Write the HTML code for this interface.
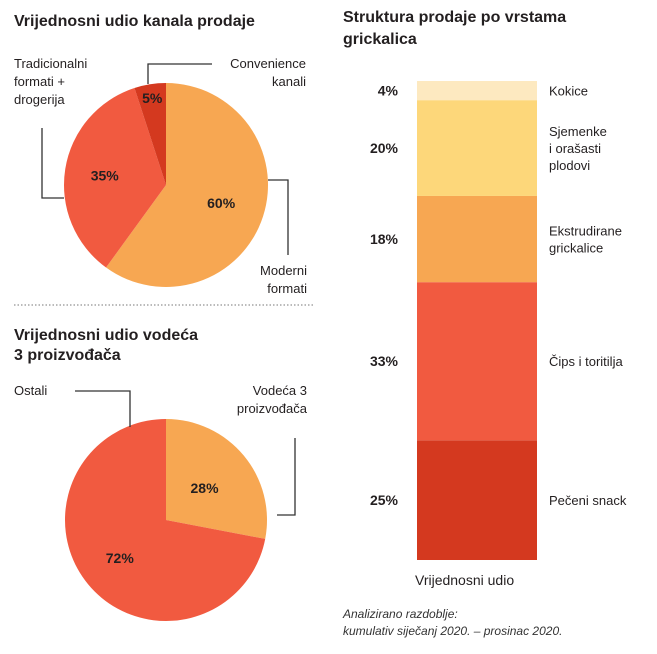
<!DOCTYPE html>
<html><head><meta charset="utf-8"><style>
body{margin:0;background:#fff;width:657px;height:649px;overflow:hidden;font-family:"Liberation Sans",sans-serif}
svg text{font-family:"Liberation Sans",sans-serif}
</style></head><body>
<svg width="657" height="649">
<g>
<text x="14" y="26" font-size="16" font-weight="bold" fill="#231f20">Vrijednosni udio kanala prodaje</text>
<text x="14" y="340" font-size="16" font-weight="bold" fill="#231f20">Vrijednosni udio vodeća</text>
<text x="14" y="360" font-size="16" font-weight="bold" fill="#231f20">3 proizvođača</text>
<text x="343" y="22" font-size="16" font-weight="bold" fill="#231f20">Struktura prodaje po vrstama</text>
<text x="343" y="44" font-size="16" font-weight="bold" fill="#231f20">grickalica</text>
</g>
<line x1="14" y1="305" x2="313" y2="305" stroke="#777" stroke-dasharray="1.5,2"/>
<g id="pie1"></g>
<g id="pie2"></g>
<g id="bar"></g>
<g fill="none" stroke="#333" stroke-width="1.3">
<polyline points="148,84 148,64 212,64"/>
<polyline points="64,198 42,198 42,128"/>
<polyline points="268,180 288,180 288,255"/>
<polyline points="75,391 130,391 130,427"/>
<polyline points="277,515 295,515 295,438"/>
</g>
<g font-size="13" fill="#231f20">
<text x="14" y="68">Tradicionalni</text><text x="14" y="86">formati +</text><text x="14" y="104">drogerija</text>
<text x="306" y="68" text-anchor="end">Convenience</text><text x="306" y="86" text-anchor="end">kanali</text>
<text x="307" y="275" text-anchor="end">Moderni</text><text x="307" y="293" text-anchor="end">formati</text>
<text x="14" y="395">Ostali</text>
<text x="307" y="395" text-anchor="end">Vodeća 3</text><text x="307" y="413" text-anchor="end">proizvođača</text>
</g>
<text x="415" y="585" font-size="14" fill="#231f20">Vrijednosni udio</text>
<text x="343" y="618" font-size="12" font-style="italic" fill="#333">Analizirano razdoblje:</text>
<text x="343" y="635" font-size="12" font-style="italic" fill="#333">kumulativ siječanj 2020. – prosinac 2020.</text>
</svg>
<script>
const pie1Labels=["Moderni formati","Tradicionalni formati + drogerija","Convenience kanali"];
const pie1Values=[60,35,5];
const pie2Labels=["Vodeća 3 proizvođača","Ostali"];
const pie2Values=[28,72];
const barCategories=["Pečeni snack","Čips i toritilja","Ekstrudirane grickalice","Sjemenke i orašasti plodovi","Kokice"];
const barValues=[25,33,18,20,4];
const NS="http://www.w3.org/2000/svg";
function mk(t,a,p){const e=document.createElementNS(NS,t);for(const k in a)e.setAttribute(k,a[k]);p.appendChild(e);return e;}
function pie(g,vals,cols,cx,cy,r,lr){
 const tot=vals.reduce((a,b)=>a+b,0);let a0=0;
 vals.forEach((v,i)=>{const a1=a0+v/tot*2*Math.PI;
  const x0=cx+r*Math.sin(a0),y0=cy-r*Math.cos(a0),x1=cx+r*Math.sin(a1),y1=cy-r*Math.cos(a1);
  const p=mk('path',{d:`M${cx},${cy}L${x0},${y0}A${r},${r} 0 ${a1-a0>Math.PI?1:0} 1 ${x1},${y1}Z`,fill:cols[i]},g);
  
  
  const am=(a0+a1)/2,rr=lr[i];
  const t=mk('text',{x:cx+rr*Math.sin(am),y:cy-rr*Math.cos(am)+5,'text-anchor':'middle','font-size':14,'font-weight':'bold',fill:'#231f20'},g);
  t.textContent=v+'%';
  
  
  a0=a1;});
}
pie(document.getElementById('pie1'),pie1Values,['#f7a752','#f15a40','#d4391f'],166,185,102,[58,62,88]);
pie(document.getElementById('pie2'),pie2Values,['#f7a752','#f15a40'],166,520,101,[50,60]);
const bg=document.getElementById('bar');
const bcols=['#d4391f','#f15a40','#f7a752','#fdd77a','#fde9c0'];
const bTop=81,bBot=560,bX=417,bW=120;
const bTot=barValues.reduce((a,b)=>a+b,0);let by=bBot;
barValues.forEach((v,i)=>{const h=v/bTot*(bBot-bTop);by-=h;
 const r=mk('rect',{x:bX,y:by,width:bW,height:h,fill:bcols[i]},bg);
 
 
 const cy=by+h/2;
 const t=mk('text',{x:398,y:cy+5,'text-anchor':'end','font-size':14,'font-weight':'bold',fill:'#231f20'},bg);
 t.textContent=v+'%';
 
 
 const words=barCategories[i]==="Sjemenke i orašasti plodovi"?["Sjemenke","i orašasti","plodovi"]:barCategories[i]==="Ekstrudirane grickalice"?["Ekstrudirane","grickalice"]:[barCategories[i]];
 words.forEach((wd,j)=>{const l=mk('text',{x:549,y:cy+5+(j-(words.length-1)/2)*17,'font-size':13,fill:'#231f20'},bg);
  l.textContent=wd;
  
  });
});
</script>
</body></html>
